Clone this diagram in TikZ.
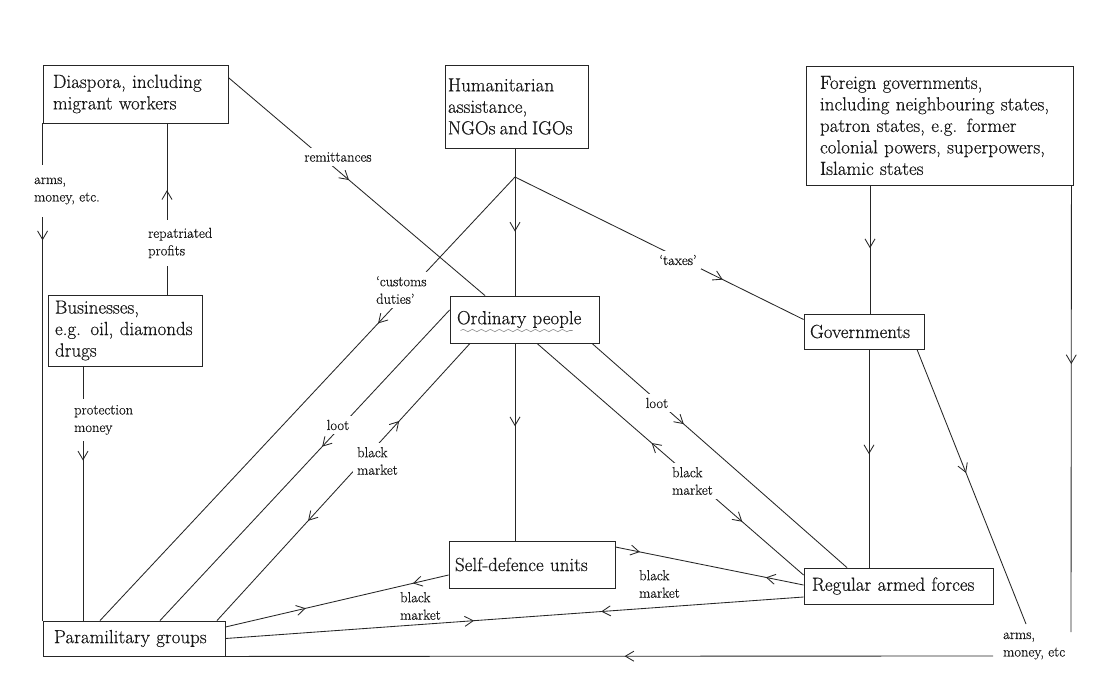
\documentclass[tikz,border=0pt]{standalone}
\usepackage{fontspec}
\setmainfont{Latin Modern Roman}[FakeBold=0.45]
\usetikzlibrary{arrows.meta,decorations.markings,decorations.pathmorphing}
\tikzset{
  box/.style={draw=black!85, line width=0.85pt, align=left, font=\fontsize{19}{21.5}\selectfont, inner ysep=2pt, text=black!90},
  lbl/.style={font=\fontsize{14.5}{17.5}\selectfont, align=left, inner sep=1pt, text=black!90},
  gaplbl/.style={lbl, fill=white, inner sep=4pt},
  conn/.style={draw=black!85, line width=0.85pt},
  fw/.style={postaction={decorate, decoration={markings, mark=at position #1 with {\arrow{Straight Barb[length=8.5pt,width=10pt]}}}}},
  bw/.style={postaction={decorate, decoration={markings, mark=at position #1 with {\arrowreversed{Straight Barb[length=8.5pt,width=10pt]}}}}},
  scribble/.style={draw=black!45, line width=0.6pt, decorate, decoration={snake, amplitude=1.2pt, segment length=9pt}},
}
\begin{document}
\begin{tikzpicture}[x=1pt,y=-1pt]
\fill[white] (0,0) rectangle (1107,675);
\useasboundingbox (0,0) rectangle (1107,675);

% boxes
\node[box, text width=165pt, inner xsep=10pt, minimum height=58pt] (dias) at (135.5,94) {Diaspora, including\\migrant workers};
\node[box, text width=137pt, inner xsep=3pt, minimum height=83pt] (hum) at (516.5,106.5) {Humanitarian\\assistance,\\\mbox{NGOs\hspace{0.22em}and\hspace{0.22em}IGOs}};
\node[box, text width=239pt, inner xsep=14pt, minimum height=119pt] (for) at (939.5,125.5) {Foreign governments,\\including neighbouring states,\\patron states, e.g. former\\colonial powers, superpowers,\\Islamic states};
\node[box, text width=108pt, inner xsep=6pt, minimum height=35pt] (gov) at (864,331.5) {Governments};
\node[box, text width=135pt, inner xsep=7pt, minimum height=47pt] (ord) at (524.5,319.5) {Ordinary people};
\node[box, text width=140pt, inner xsep=7pt, minimum height=71pt] (bus) at (125,330.5) {Businesses,\\e.g. oil, diamonds\\drugs};
\node[box, text width=160pt, inner xsep=11pt, minimum height=35pt] (para) at (134,638.5) {Paramilitary groups};
\node[box, text width=154pt, inner xsep=6pt, minimum height=47pt] (self) at (532,564.5) {Self-defence units};
\node[box, text width=173pt, inner xsep=8pt, minimum height=36pt] (reg) at (898.5,586) {Regular armed forces};

% pencil underline
\draw[scribble] ([xshift=-64pt,yshift=-11pt]ord.center) -- ([xshift=48pt,yshift=-11pt]ord.center);

% connectors
\coordinate (J) at (515,177);
\coordinate (e1) at (1026,624);
\coordinate (e2) at (1071,632);
\coordinate (e3) at (993,656);

\draw[conn, fw=0.235] (dias.south west) -- (para.north west);
\draw[conn, fw=0.61] ([xshift=42pt]bus.north) -- ([xshift=31.5pt]dias.south);
\draw[conn, fw=0.37] ([xshift=-42pt]bus.south) -- ([xshift=-51pt]para.north);
\draw[conn, fw=0.47] ([yshift=-13pt]dias.north east) -- ([xshift=-39.5pt]ord.north);
\draw[conn] ([xshift=-1.5pt]hum.south) -- (J);
\draw[conn, fw=0.46] (J) -- ([xshift=-9.5pt]ord.north);
\draw[conn, fw=0.33] (J) -- ([xshift=-34pt]para.north);
\draw[conn, fw=0.72] (J) -- ([yshift=12pt]gov.west);
\draw[conn, fw=0.44] ([yshift=9.5pt]ord.west) -- ([xshift=26pt]para.north);
\draw[conn, fw=0.72, bw=0.36] ([xshift=83pt]para.north) -- ([xshift=-54.5pt]ord.south);
\draw[conn, fw=0.42] ([xshift=-9.5pt]ord.south) -- ([xshift=-17pt]self.north);
\draw[conn, fw=0.36] ([xshift=67.5pt]ord.south) -- ([xshift=-51.5pt]reg.north);
\draw[conn, bw=0.43, fw=0.77] ([xshift=12.5pt]ord.south) -- ([yshift=11pt]reg.west);
\draw[conn, fw=0.13, bw=0.8] ([yshift=17.5pt]self.east) -- ([yshift=1pt]reg.west);
\draw[conn, fw=0.36, bw=0.84] ([yshift=11.5pt]para.east) -- ([yshift=-10.5pt]self.west);
\draw[conn, fw=0.35, bw=0.57] ([yshift=-11pt]reg.west) -- (para.east);
\draw[conn, fw=0.49] ([xshift=-69.5pt]for.south) -- ([xshift=6pt]gov.north);
\draw[conn, fw=0.48] ([xshift=5pt]gov.south) -- ([xshift=-29.5pt]reg.north);
\draw[conn, fw=0.45] ([xshift=53pt]gov.south) -- (e1);
\draw[conn, fw=0.4] ([xshift=-2pt]for.south east) -- (e2);
\draw[conn, fw=0.48] (e3) -- (para.south east);

% labels
\node[gaplbl, anchor=west, inner ysep=13pt] (l1) at (30,191) {arms,\\money, etc.};
\node[gaplbl, anchor=west, inner ysep=8pt] (l2) at (144,243) {repatriated\\profits};
\node[gaplbl, anchor=west, inner ysep=6pt] (l3) at (70,420) {protection\\money};
\node[gaplbl] (l4) at (338,157) {remittances};
\node[gaplbl, anchor=west] (l5) at (372,290) {`customs\\duties'};
\node[gaplbl] (l6) at (678,260) {`taxes'};
\node[gaplbl] (l7) at (338,425) {loot};
\node[gaplbl, anchor=west] (l8) at (353,461) {black\\market};
\node[gaplbl] (l9) at (657,403) {loot};
\node[gaplbl, anchor=west] (l10) at (668,481) {black\\market};
\node[lbl, anchor=west] (l11) at (638,584) {black\\market};
\node[lbl, anchor=west] (l12) at (399,606) {black\\market};
\node[lbl, anchor=west] (l13) at (1002,646) {arms,\\money, etc};
\end{tikzpicture}
\end{document}
